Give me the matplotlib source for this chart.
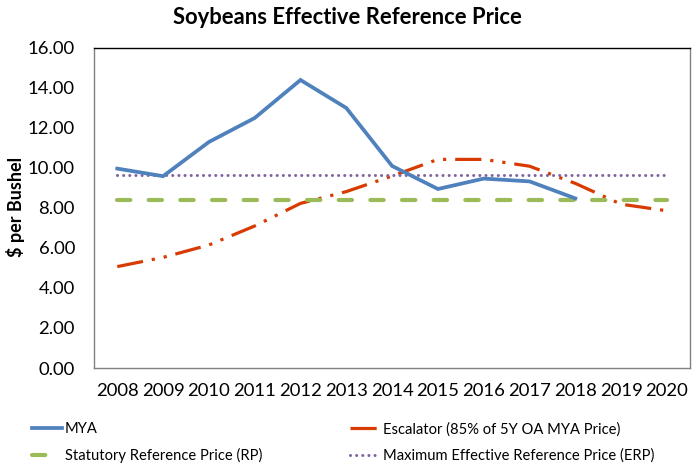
import matplotlib
matplotlib.use("Agg")
import matplotlib.pyplot as plt

years = ["2008", "2009", "2010", "2011", "2012", "2013", "2014",
         "2015", "2016", "2017", "2018", "2019", "2020"]
mya = [9.97, 9.59, 11.30, 12.50, 14.40, 13.00, 10.10, 8.95, 9.47, 9.33, 8.48]
escalator = [5.07, 5.53, 6.15, 7.10, 8.23, 8.82, 9.60, 10.43, 10.43, 10.09, 9.23, 8.19, 7.86]
rp = [8.40] * 13
erp = [9.66] * 13

plt.rcParams['font.family'] = ['Lato', 'DejaVu Sans']

fig = plt.figure(figsize=(6.94, 4.65), dpi=100)
ax = fig.add_axes([0.136, 0.2086, 0.858, 0.6882])

x = list(range(len(years)))
l_esc, = ax.plot(x, escalator, color="#D83B01", lw=2.3,
                 linestyle=(0, (8.2, 2.8, 1.0, 2.8, 1.0, 2.8)),
                 dash_capstyle="butt", label="Escalator (85% of 5Y OA MYA Price)")
l_rp, = ax.plot(x, rp, color="#9BBB59", lw=3.0, linestyle=(0, (3.2, 4.4)),
                dash_capstyle="round", label="Statutory Reference Price (RP)")
l_erp, = ax.plot(x, erp, color="#8064A2", lw=2.2, linestyle=(0, (0.01, 2.0)),
                 dash_capstyle="round", label="Maximum Effective Reference Price (ERP)")
l_mya, = ax.plot(x[:len(mya)], mya, color="#4F81BD", lw=2.7, label="MYA",
                 solid_joinstyle="miter")

ax.set_xlim(-0.5, 12.5)
ax.set_ylim(0, 16)
yt = [0, 2, 4, 6, 8, 10, 12, 14, 16]
ax.set_yticks(yt)
ax.set_yticklabels([f"{v:.2f}" for v in yt])
ax.set_xticks(x)
ax.set_xticklabels(years)
ax.tick_params(axis='both', length=0, labelsize=13.3)
ax.tick_params(axis='x', pad=11)
ax.tick_params(axis='y', pad=14)
for s in ax.spines.values():
    s.set_color("#808080")
    s.set_linewidth(1.0)
ax.spines['top'].set_color("#000000")

ax.set_ylabel("$ per Bushel", fontsize=13, fontweight="bold", va="center")
ax.yaxis.set_label_coords(16 / 694, 1 - 207 / 465, transform=fig.transFigure)
fig.text(0.5, 0.962, "Soybeans Effective Reference Price", ha="center", va="center",
         fontsize=15.8, fontweight="bold")

common = dict(loc="upper left", frameon=False, fontsize=10.6, handlelength=2.05,
              handletextpad=0.2, labelspacing=0.82, borderaxespad=0, borderpad=0)
fig.legend([l_mya, l_rp], [l_mya.get_label(), l_rp.get_label()],
           bbox_to_anchor=(32 / 694, 1 - 422 / 465), **common)
fig.legend([l_esc, l_erp], [l_esc.get_label(), l_erp.get_label()],
           bbox_to_anchor=(350 / 694, 1 - 422 / 465), **common)

fig.savefig("out.png", dpi=100)
